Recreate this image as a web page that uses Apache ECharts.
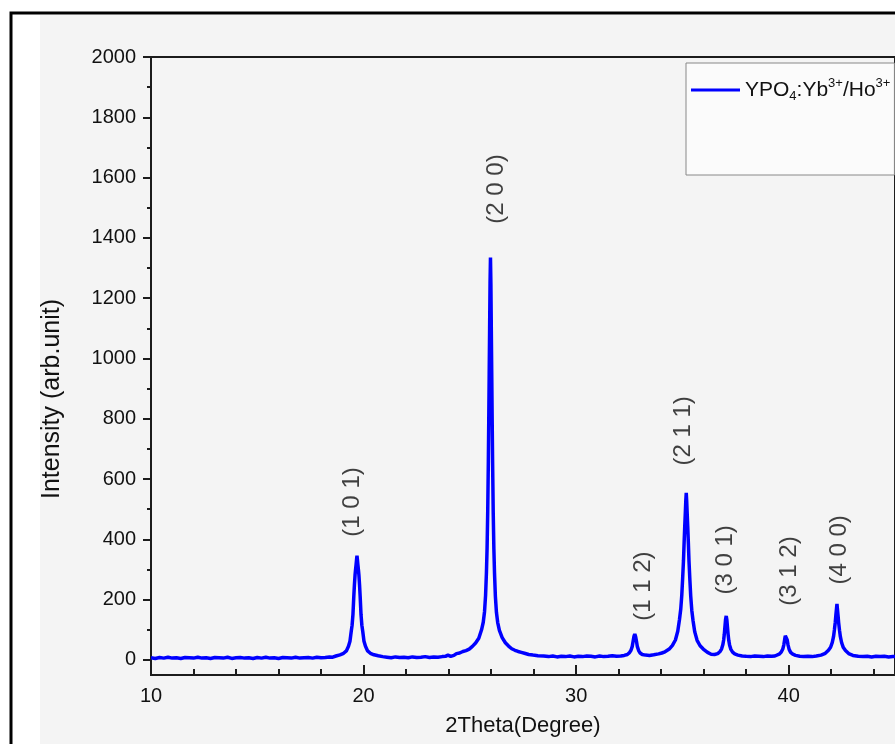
<!DOCTYPE html>
<html>
<head>
<meta charset="utf-8">
<script src="https://cdn.jsdelivr.net/npm/echarts@6.0.0/dist/echarts.min.js"></script>
<style>
html,body{margin:0;padding:0;background:#fff;}
#c{width:895px;height:744px;}
</style>
</head>
<body>
<div id="c"></div>
<script>
// ---- data ----
const twoTheta = [
10.0,10.2,10.4,10.6,10.8,11.0,11.2,11.4,11.6,11.8,12.0,12.2,12.4,12.6,12.8,13.0,13.2,13.4,13.6,13.8,
14.0,14.2,14.4,14.6,14.8,15.0,15.2,15.4,15.6,15.8,16.0,16.2,16.4,16.6,16.8,17.0,17.2,17.4,17.6,17.8,
18.0,18.2,18.4,18.55,18.7,
18.89,19.06,19.19,19.29,19.36,19.42,19.46,19.50,19.54,19.57,19.60,19.62,19.65,19.67,19.69,19.71,19.73,19.76,19.78,19.81,
19.84,19.88,19.92,19.96,20.02,20.09,20.19,20.32,20.49,20.69,20.9,
21.1,21.3,21.5,21.7,21.9,22.1,22.3,22.5,22.7,22.9,23.1,23.3,23.5,23.7,23.85,23.97,24.1,24.25,
24.37,24.52,24.67,24.82,24.97,25.12,25.27,25.42,25.55,25.63,25.69,25.74,25.78,25.81,25.84,25.87,25.89,25.91,25.93,25.95,
25.97,25.99,26.01,26.03,26.05,26.07,26.10,26.13,26.16,26.20,26.25,26.31,26.39,26.52,26.67,26.82,26.97,27.12,27.27,27.42,
27.57,27.77,27.97,28.2,28.47,
28.7,28.9,29.1,29.3,29.5,29.7,29.9,30.1,30.3,30.5,30.7,30.9,31.1,31.3,31.5,31.7,31.9,32.1,32.26,
32.41,32.51,32.58,32.64,32.68,32.72,32.76,32.80,32.84,32.88,32.94,33.01,33.11,33.26,33.45,33.65,
33.88,34.03,34.18,34.38,34.53,34.67,34.78,34.86,34.92,34.97,35.01,35.05,35.08,35.11,35.14,35.16,35.18,35.20,35.22,35.25,
35.28,35.31,35.35,35.39,35.44,35.50,35.58,35.69,35.83,35.98,36.18,36.35,36.51,
36.66,36.76,36.84,36.90,36.94,36.97,37.00,37.03,37.06,37.09,37.12,37.15,37.18,37.22,37.28,37.36,37.46,37.61,37.81,
38.0,38.2,38.4,38.6,38.8,39.0,39.2,39.35,
39.42,39.55,39.65,39.72,39.77,39.81,39.84,39.87,39.90,39.93,39.97,40.02,40.09,40.19,40.32,40.52,
40.7,40.9,41.1,41.3,
41.52,41.72,41.87,41.97,42.05,42.11,42.15,42.19,42.22,42.25,42.27,42.29,42.32,42.35,42.39,42.43,42.49,42.57,42.67,42.82,
43.02,43.27,43.5,43.7,43.9,44.1,44.3,44.5,44.7,44.9,45.0
];
const intensity = [
7,5,8,6,9,6,7,5,8,7,6,9,6,7,5,8,7,6,9,5,
7,8,6,7,5,8,6,9,6,7,5,8,7,6,9,6,7,8,6,9,
7,8,10,9,13,
17,22,30,45,62,95,115,150,210,250,282,298,318,333,346,333,318,298,282,250,
210,150,115,95,62,45,30,22,17,14,11,
9,7,10,8,9,7,10,8,9,11,8,10,9,11,12,16,12,15,
21,23,28,31,36,45,56,72,100,125,160,215,290,370,490,660,800,950,1100,1250,
1335,1245,1090,945,795,655,485,368,288,212,158,124,98,74,57,46,37,32,28,25,
22,18,16,14,13,
11,13,10,12,11,13,10,12,11,13,12,10,13,11,12,14,12,13,15,
18,24,32,45,62,78,86,77,61,44,31,23,18,16,15,17,
20,23,27,36,48,66,95,133,168,215,270,330,390,445,495,530,554,528,492,442,
386,326,266,212,165,130,93,65,47,36,25,19,18,
21,27,36,50,66,85,110,135,146,133,108,84,65,49,35,26,20,16,13,
12,11,13,12,11,13,12,13,
15,19,26,36,50,68,80,86,79,66,49,35,25,19,15,12,
11,12,11,13,
16,22,32,42,58,78,100,125,150,172,186,170,148,123,98,77,57,41,31,21,
15,12,11,12,10,12,11,12,10,11,11
];
const seriesName = 'YPO4:Yb3+/Ho3+';
const peakLabels = ['(1 0 1)', '(2 0 0)', '(1 1 2)', '(2 1 1)', '(3 0 1)', '(3 1 2)', '(4 0 0)'];
const peakLabelX = [19.45, 26.24, 33.16, 35.03, 37.0, 40.04, 42.38];
const peakLabelY = [524, 1562, 245, 760, 332, 295, 365];
const xMajorTicks = [10, 20, 30, 40];
const xMinorTicks = [12, 14, 16, 18, 22, 24, 26, 28, 32, 34, 36, 38, 42, 44];
const yMajorTicks = [0, 200, 400, 600, 800, 1000, 1200, 1400, 1600, 1800, 2000];
const yMinorTicks = [100, 300, 500, 700, 900, 1100, 1300, 1500, 1700, 1900];

// ---- chart ----
const FONT = '"Liberation Sans", Arial, sans-serif';
const AX = '#1c1c1c';
const TXT = '#111111';
const xyData = twoTheta.map((x, i) => [x, intensity[i]]);
const labelData = peakLabels.map((t, i) => ({ name: t, value: [peakLabelX[i], peakLabelY[i]] }));

const chart = echarts.init(document.getElementById('c'), null, { renderer: 'canvas' });
chart.setOption({
  animation: false,
  backgroundColor: '#ffffff',
  textStyle: { fontFamily: FONT },
  graphic: [
    { type: 'rect', z: -100, silent: true, shape: { x: 40, y: 15, width: 900, height: 800 }, style: { fill: '#f4f4f4' } },
    { type: 'rect', z: -99, silent: true, shape: { x: 11, y: 13, width: 950, height: 800 }, style: { fill: 'none', stroke: '#000', lineWidth: 3 } }
  ],
  grid: { left: 151, top: 57, width: 748, height: 618, show: true, borderColor: AX, borderWidth: 2, backgroundColor: 'transparent' },
  legend: {
    data: [seriesName], left: 686, top: 63, orient: 'vertical', selectedMode: false,
    icon: 'rect', itemWidth: 49, itemHeight: 3,
    padding: [14, 4, 72, 5], borderColor: '#888', borderWidth: 1, backgroundColor: '#fbfbfb',
    formatter: () => '{a|YPO}{sub|4}{a|:Yb}{sup|3+}{a|/Ho}{sup|3+}',
    textStyle: {
      color: TXT, fontFamily: FONT,
      rich: {
        a: { fontSize: 21, lineHeight: 26, fontFamily: FONT, color: TXT },
        sub: { fontSize: 13, lineHeight: 12, verticalAlign: 'bottom', fontFamily: FONT, color: TXT },
        sup: { fontSize: 13, lineHeight: 13, verticalAlign: 'top', fontFamily: FONT, color: TXT }
      }
    }
  },
  xAxis: [{
    type: 'value', min: 10, max: 45, position: 'bottom',
    name: '2Theta(Degree)', nameLocation: 'middle', nameGap: 40,
    nameTextStyle: { fontSize: 22, color: TXT, fontFamily: FONT },
    axisLine: { onZero: false, lineStyle: { color: AX, width: 2 } },
    axisTick: { inside: true, length: 10, customValues: xMajorTicks, lineStyle: { color: AX, width: 2 } },
    axisLabel: { customValues: xMajorTicks, margin: 11, fontSize: 20, color: TXT, fontFamily: FONT, formatter: v => String(v) },
    splitLine: { show: false }
  }, {
    type: 'value', min: 10, max: 45, position: 'bottom', gridIndex: 0,
    axisLine: { show: false, onZero: false },
    axisTick: { inside: true, length: 6, customValues: xMinorTicks, lineStyle: { color: AX, width: 2 } },
    axisLabel: { show: false }, splitLine: { show: false }
  }],
  yAxis: [{
    type: 'value', min: -50, max: 2000, position: 'left',
    name: 'Intensity (arb.unit)', nameLocation: 'middle', nameGap: 86, nameRotate: 90,
    nameTextStyle: { fontSize: 25, color: TXT, fontFamily: FONT, padding: [0, 66, 0, 0] },
    axisLine: { onZero: false, lineStyle: { color: AX, width: 2 } },
    axisTick: { inside: false, length: 8, customValues: yMajorTicks, lineStyle: { color: AX, width: 2 } },
    axisLabel: { customValues: yMajorTicks, margin: 15, fontSize: 20, color: TXT, fontFamily: FONT, formatter: v => String(v) },
    splitLine: { show: false }
  }, {
    type: 'value', min: -50, max: 2000, position: 'left', gridIndex: 0,
    axisLine: { show: false, onZero: false },
    axisTick: { inside: false, length: 4, customValues: yMinorTicks, lineStyle: { color: AX, width: 2 } },
    axisLabel: { show: false }, splitLine: { show: false }
  }],
  series: [{
    name: seriesName, type: 'line', xAxisIndex: 0, yAxisIndex: 0,
    data: xyData, showSymbol: false, symbol: 'none', smooth: false,
    lineStyle: { color: '#0000ff', width: 3.5 }, itemStyle: { color: '#0000ff' }, z: 3
  }, {
    name: 'hkl', type: 'scatter', xAxisIndex: 0, yAxisIndex: 0, silent: true,
    data: labelData, symbolSize: 1, itemStyle: { color: 'rgba(0,0,0,0)' },
    label: { show: true, position: 'inside', rotate: 90, formatter: '{b}', fontSize: 24, color: TXT, fontFamily: FONT }
  }]
});
</script>
</body>
</html>
